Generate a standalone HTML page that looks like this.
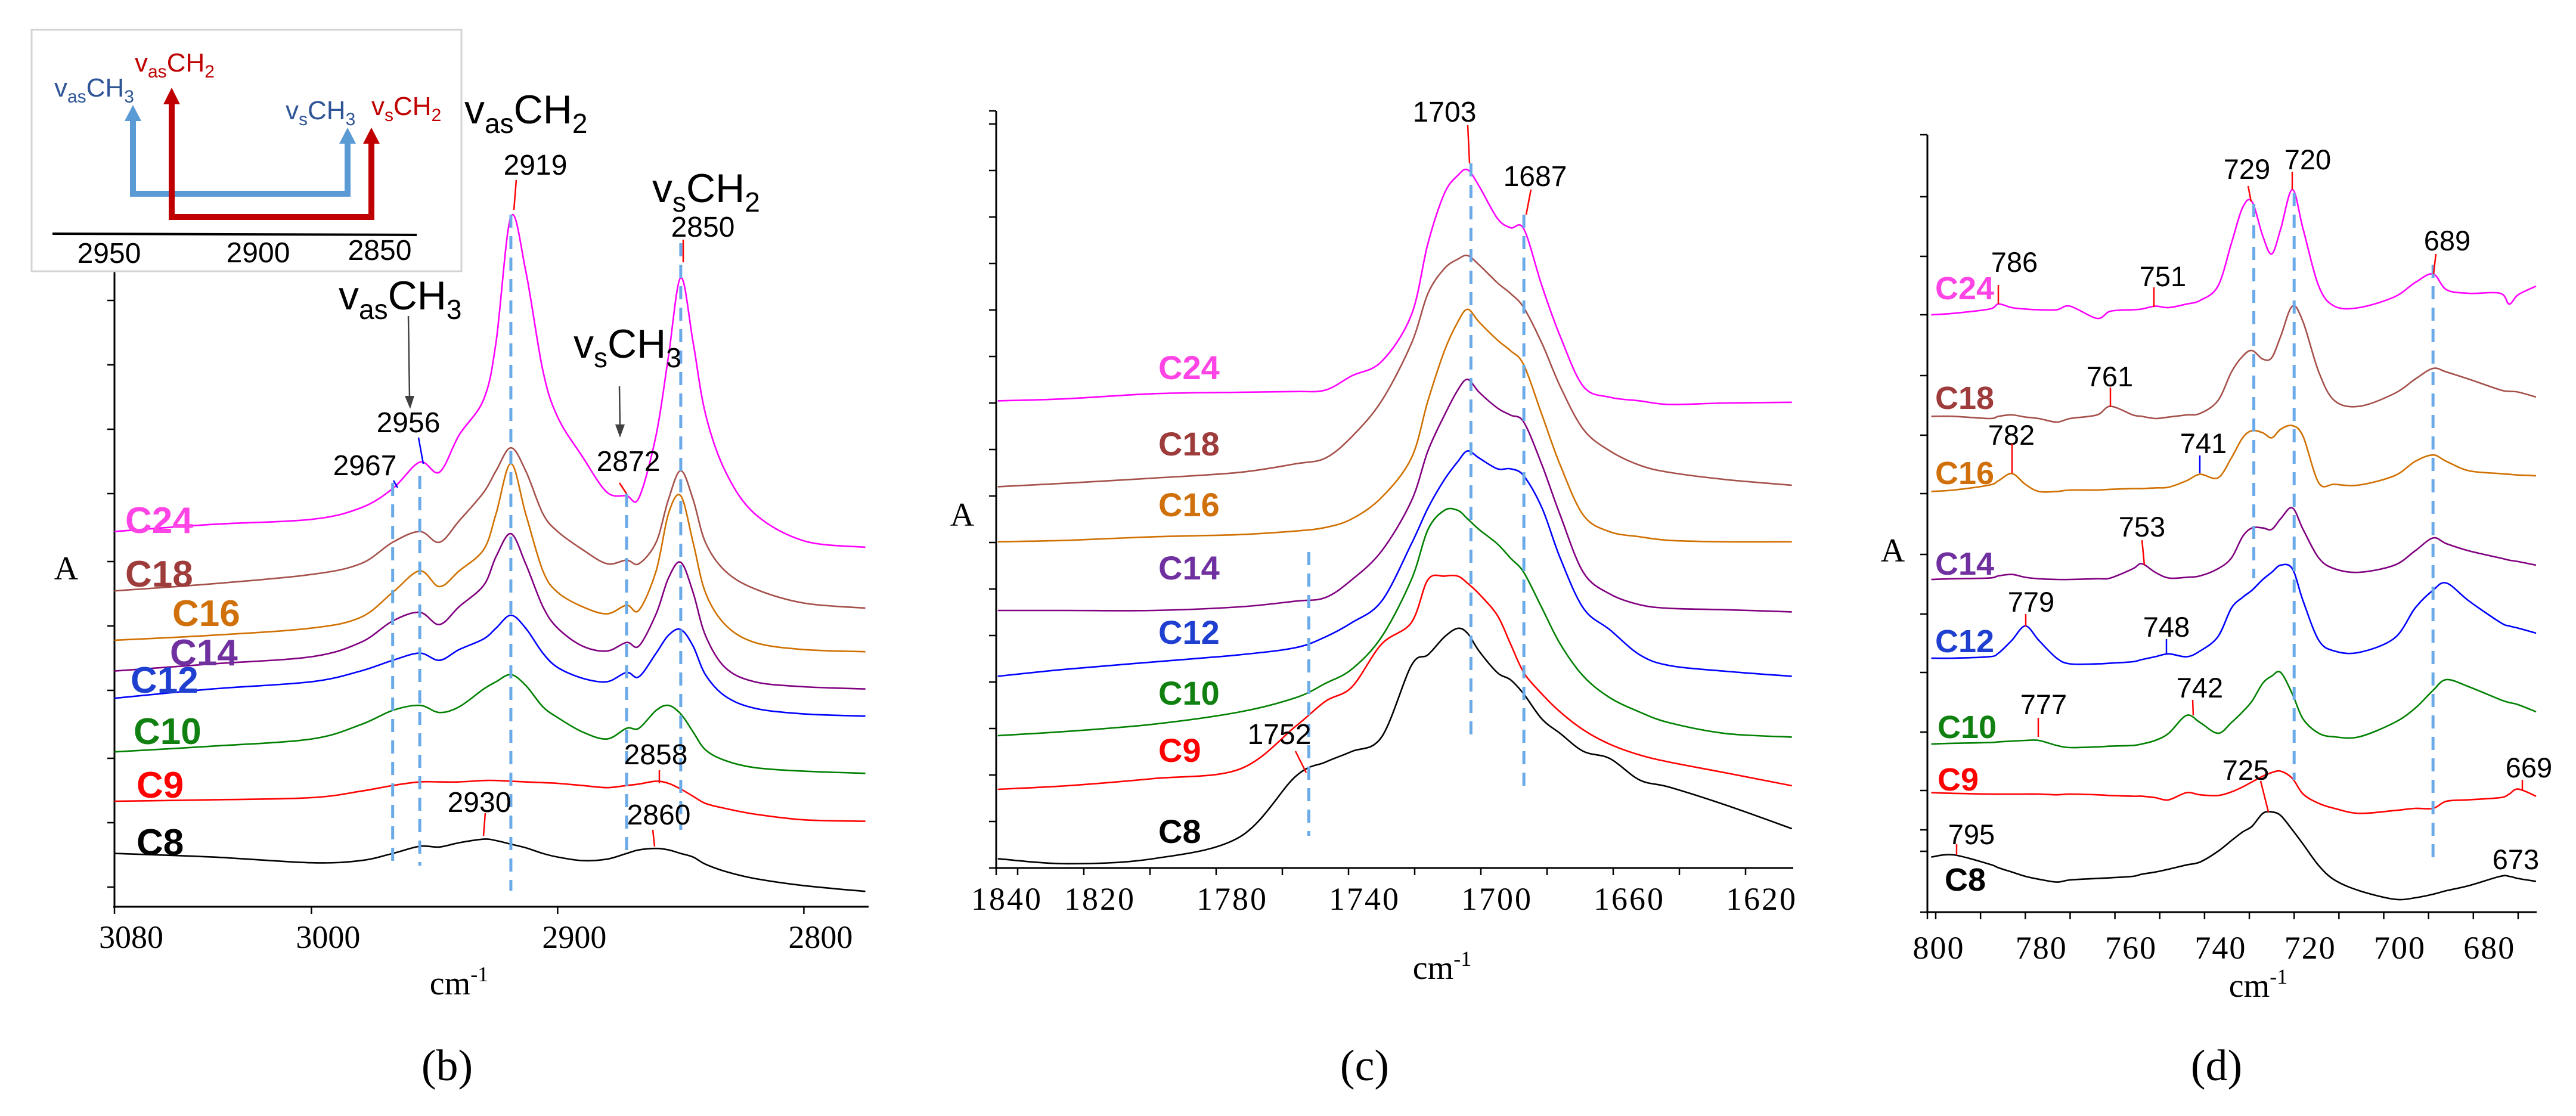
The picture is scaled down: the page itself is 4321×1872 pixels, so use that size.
<!DOCTYPE html>
<html><head><meta charset="utf-8">
<style>
html,body{margin:0;padding:0;background:#fff;}
svg{display:block;}
.sans{font-family:"Liberation Sans",sans-serif;}
.serif{font-family:"Liberation Serif",serif;}
</style></head>
<body>
<svg id="fig" width="4321" height="1872" viewBox="0 0 4321 1872" xmlns="http://www.w3.org/2000/svg">
<rect x="0" y="0" width="4321" height="1872" fill="#fff"/>

<!-- Panel b static -->
<g id="pb">
  <line x1="192" y1="440" x2="192" y2="1523" stroke="#000" stroke-width="3"/>
  <line x1="190" y1="1521" x2="1457" y2="1521" stroke="#000" stroke-width="3"/>
  <text x="111" y="972" class="serif" font-size="56" text-anchor="middle">A</text>
  <text x="770" y="1668" class="serif" font-size="56" text-anchor="middle">cm<tspan font-size="36" dy="-22">-1</tspan></text>
  <text x="750" y="1812" class="serif" font-size="74" text-anchor="middle">(b)</text>
</g>

<!-- Panel c static -->
<g id="pc">
  <line x1="1671" y1="186" x2="1671" y2="1458" stroke="#000" stroke-width="3"/>
  <line x1="1669" y1="1456" x2="3008" y2="1456" stroke="#000" stroke-width="3"/>
  <text x="1614" y="882" class="serif" font-size="56" text-anchor="middle">A</text>
  <text x="2419" y="1642" class="serif" font-size="56" text-anchor="middle">cm<tspan font-size="36" dy="-22">-1</tspan></text>
  <text x="2289" y="1812" class="serif" font-size="74" text-anchor="middle">(c)</text>
</g>

<!-- Panel d static -->
<g id="pd">
  <line x1="3233" y1="226" x2="3233" y2="1532" stroke="#000" stroke-width="3"/>
  <line x1="3231" y1="1530" x2="4255" y2="1530" stroke="#000" stroke-width="3"/>
  <text x="3175" y="942" class="serif" font-size="56" text-anchor="middle">A</text>
  <text x="3788" y="1672" class="serif" font-size="56" text-anchor="middle">cm<tspan font-size="36" dy="-22">-1</tspan></text>
  <text x="3718" y="1812" class="serif" font-size="74" text-anchor="middle">(d)</text>
</g>

<g id="curves"></g>
<g id="dashes"></g>

<!-- Panel b annotations -->
<g class="sans">
  <text x="779" y="207" font-size="68">v<tspan font-size="46" dy="16">as</tspan><tspan dy="-16">CH</tspan><tspan font-size="46" dy="16">2</tspan></text>
  <text x="898" y="293" font-size="48" text-anchor="middle">2919</text>
  <line x1="866" y1="302" x2="862" y2="352" stroke="#f00" stroke-width="2.5"/>
  <text x="1094" y="339" font-size="68">v<tspan font-size="46" dy="16">s</tspan><tspan dy="-16">CH</tspan><tspan font-size="46" dy="16">2</tspan></text>
  <text x="1179" y="397" font-size="48" text-anchor="middle">2850</text>
  <line x1="1146" y1="402" x2="1146" y2="440" stroke="#f00" stroke-width="2.5"/>
  <text x="568" y="519" font-size="68">v<tspan font-size="46" dy="16">as</tspan><tspan dy="-16">CH</tspan><tspan font-size="46" dy="16">3</tspan></text>
  <line x1="685" y1="530" x2="687" y2="668" stroke="#404040" stroke-width="2.5"/>
  <polygon points="679,664 695,664 688,686" fill="#404040"/>
  <text x="685" y="725" font-size="48" text-anchor="middle">2956</text>
  <line x1="702" y1="734" x2="710" y2="778" stroke="#00f" stroke-width="2.5"/>
  <text x="612" y="797" font-size="48" text-anchor="middle">2967</text>
  <line x1="660" y1="806" x2="667" y2="818" stroke="#00f" stroke-width="2.5"/>
  <text x="962" y="600" font-size="68">v<tspan font-size="46" dy="16">s</tspan><tspan dy="-16">CH</tspan><tspan font-size="46" dy="16">3</tspan></text>
  <line x1="1039" y1="648" x2="1040" y2="716" stroke="#404040" stroke-width="2.5"/>
  <polygon points="1032,712 1048,712 1040,734" fill="#404040"/>
  <text x="1054" y="790" font-size="48" text-anchor="middle">2872</text>
  <line x1="1039" y1="810" x2="1051" y2="828" stroke="#f00" stroke-width="2.5"/>
  <text x="1100" y="1282" font-size="48" text-anchor="middle">2858</text>
  <line x1="1106" y1="1292" x2="1106" y2="1314" stroke="#f00" stroke-width="2.5"/>
  <text x="804" y="1362" font-size="48" text-anchor="middle">2930</text>
  <line x1="814" y1="1364" x2="811" y2="1402" stroke="#f00" stroke-width="2.5"/>
  <text x="1105" y="1383" font-size="48" text-anchor="middle">2860</text>
  <line x1="1095" y1="1392" x2="1098" y2="1420" stroke="#f00" stroke-width="2.5"/>
</g>

<!-- Inset -->
<g class="sans">
  <rect x="53" y="50" width="721" height="405" fill="#fff" stroke="#d4d4d4" stroke-width="3"/>
  <line x1="88" y1="392" x2="699" y2="394" stroke="#000" stroke-width="4"/>
  <text x="183" y="441" font-size="48" text-anchor="middle">2950</text>
  <text x="433" y="440" font-size="48" text-anchor="middle">2900</text>
  <text x="637" y="436" font-size="48" text-anchor="middle">2850</text>
  <path d="M223,198 V325 H583 V236" fill="none" stroke="#5b9bd5" stroke-width="10"/>
  <polygon points="223,176 209,203 237,203" fill="#5b9bd5"/>
  <polygon points="583,214 569,241 597,241" fill="#5b9bd5"/>
  <path d="M288,170 V364 H623 V236" fill="none" stroke="#c00000" stroke-width="10"/>
  <polygon points="288,147 274,175 302,175" fill="#c00000"/>
  <polygon points="623,214 609,241 637,241" fill="#c00000"/>
  <text x="91" y="162" font-size="44" fill="#2f5597">v<tspan font-size="30" dy="10">as</tspan><tspan dy="-10">CH</tspan><tspan font-size="30" dy="10">3</tspan></text>
  <text x="226" y="120" font-size="44" fill="#c00000">v<tspan font-size="30" dy="10">as</tspan><tspan dy="-10">CH</tspan><tspan font-size="30" dy="10">2</tspan></text>
  <text x="479" y="200" font-size="44" fill="#2f5597">v<tspan font-size="30" dy="10">s</tspan><tspan dy="-10">CH</tspan><tspan font-size="30" dy="10">3</tspan></text>
  <text x="623" y="193" font-size="44" fill="#c00000">v<tspan font-size="30" dy="10">s</tspan><tspan dy="-10">CH</tspan><tspan font-size="30" dy="10">2</tspan></text>
</g>

<!-- Panel c annotations -->
<g class="sans" font-size="48">
  <text x="2423" y="204" text-anchor="middle">1703</text>
  <line x1="2462" y1="210" x2="2465" y2="274" stroke="#f00" stroke-width="2.5"/>
  <text x="2575" y="312" text-anchor="middle">1687</text>
  <line x1="2568" y1="318" x2="2560" y2="360" stroke="#f00" stroke-width="2.5"/>
  <text x="2146" y="1248" text-anchor="middle">1752</text>
  <line x1="2173" y1="1260" x2="2191" y2="1296" stroke="#f00" stroke-width="2.5"/>
</g>

<!-- Panel d annotations -->
<g class="sans" font-size="47">
  <text x="3379" y="456" text-anchor="middle">786</text>
  <line x1="3352" y1="478" x2="3352" y2="510" stroke="#f00" stroke-width="2.5"/>
  <text x="3628" y="480" text-anchor="middle">751</text>
  <line x1="3613" y1="482" x2="3613" y2="515" stroke="#f00" stroke-width="2.5"/>
  <text x="3769" y="300" text-anchor="middle">729</text>
  <line x1="3771" y1="312" x2="3776" y2="338" stroke="#f00" stroke-width="2.5"/>
  <text x="3871" y="284" text-anchor="middle">720</text>
  <line x1="3845" y1="288" x2="3845" y2="318" stroke="#f00" stroke-width="2.5"/>
  <text x="4105" y="420" text-anchor="middle">689</text>
  <line x1="4086" y1="426" x2="4082" y2="460" stroke="#f00" stroke-width="2.5"/>
  <text x="3539" y="648" text-anchor="middle">761</text>
  <line x1="3540" y1="650" x2="3540" y2="682" stroke="#f00" stroke-width="2.5"/>
  <text x="3374" y="746" text-anchor="middle">782</text>
  <line x1="3375" y1="744" x2="3375" y2="794" stroke="#f00" stroke-width="2.5"/>
  <text x="3696" y="760" text-anchor="middle">741</text>
  <line x1="3690" y1="764" x2="3690" y2="794" stroke="#00f" stroke-width="2.5"/>
  <text x="3593" y="900" text-anchor="middle">753</text>
  <line x1="3593" y1="906" x2="3597" y2="948" stroke="#f00" stroke-width="2.5"/>
  <text x="3407" y="1026" text-anchor="middle">779</text>
  <line x1="3398" y1="1030" x2="3398" y2="1051" stroke="#f00" stroke-width="2.5"/>
  <text x="3634" y="1068" text-anchor="middle">748</text>
  <line x1="3634" y1="1072" x2="3634" y2="1098" stroke="#00f" stroke-width="2.5"/>
  <text x="3690" y="1170" text-anchor="middle">742</text>
  <line x1="3678" y1="1174" x2="3679" y2="1200" stroke="#f00" stroke-width="2.5"/>
  <text x="3428" y="1198" text-anchor="middle">777</text>
  <line x1="3419" y1="1204" x2="3419" y2="1236" stroke="#f00" stroke-width="2.5"/>
  <text x="3767" y="1308" text-anchor="middle">725</text>
  <line x1="3792" y1="1310" x2="3805" y2="1362" stroke="#f00" stroke-width="2.5"/>
  <text x="4242" y="1304" text-anchor="middle">669</text>
  <line x1="4231" y1="1308" x2="4231" y2="1326" stroke="#f00" stroke-width="2.5"/>
  <text x="3307" y="1416" text-anchor="middle">795</text>
  <line x1="3282" y1="1416" x2="3282" y2="1434" stroke="#f00" stroke-width="2.5"/>
  <text x="4220" y="1458" text-anchor="middle">673</text>
</g>
<g id="labels"></g>
<g id="ticks"></g>
</svg>

<script>
// ---------- Panel (b) data: C-H stretching region ----------
const bWavenumbers = [3080,3040,3000,2980,2967,2956,2948,2940,2930,2925,2919,2913,2906,2900,2890,2880,2872,2867,2860,2855,2850,2845,2840,2832,2820,2800,2775];
const bC24 = [5.27,5.37,5.44,5.60,5.87,6.24,6.10,6.62,7.12,7.92,9.67,8.92,7.52,6.87,6.32,5.82,5.77,5.74,6.62,7.72,8.82,7.92,6.92,6.12,5.52,5.14,5.05];
const bC18 = [4.44,4.54,4.67,4.82,5.12,5.27,5.12,5.42,5.82,6.12,6.44,6.12,5.52,5.27,5.02,4.82,4.87,4.82,5.12,5.72,6.12,5.72,5.12,4.72,4.47,4.27,4.20];
const bC16 = [3.75,3.82,3.92,4.07,4.42,4.72,4.50,4.72,5.02,5.52,6.22,5.52,4.72,4.42,4.22,4.12,4.24,4.17,4.72,5.52,5.77,5.12,4.42,3.97,3.72,3.62,3.59];
const bC14 = [3.32,3.42,3.52,3.72,4.02,4.14,3.97,4.22,4.52,4.92,5.24,4.82,4.22,3.92,3.67,3.60,3.72,3.67,4.12,4.62,4.84,4.42,3.82,3.37,3.17,3.10,3.07];
const bC12 = [2.94,3.07,3.17,3.32,3.47,3.57,3.47,3.62,3.77,3.92,4.10,3.92,3.57,3.37,3.22,3.17,3.30,3.24,3.57,3.82,3.90,3.67,3.27,2.97,2.80,2.72,2.69];
const bC10 = [2.19,2.27,2.37,2.57,2.77,2.84,2.74,2.82,3.07,3.17,3.27,3.12,2.82,2.67,2.47,2.37,2.52,2.52,2.77,2.84,2.72,2.47,2.22,2.07,1.97,1.92,1.89];
const bC9  = [1.50,1.52,1.55,1.64,1.72,1.77,1.77,1.77,1.79,1.79,1.78,1.77,1.76,1.75,1.72,1.69,1.72,1.74,1.78,1.75,1.67,1.57,1.47,1.40,1.32,1.24,1.22];
const bC8  = [0.77,0.72,0.64,0.67,0.77,0.87,0.86,0.92,0.97,0.95,0.90,0.85,0.77,0.72,0.67,0.69,0.77,0.82,0.84,0.82,0.77,0.72,0.62,0.52,0.42,0.32,0.24];
const bTickValues = [3080,3000,2900,2800];
const bTickLabels = ["3080","3000","2900","2800"];
const bPeakMarkers = [2967,2956,2919,2872,2850];

// ---------- Panel (c) data: C=O region ----------
const cWavenumbers = [1846,1825,1799,1773,1756,1747,1739,1730,1721,1716,1711,1707,1704,1700.5,1695,1691,1687,1681.5,1676,1669,1661,1652,1643,1626,1606];
const cC24 = [6.53,6.56,6.63,6.65,6.66,6.68,6.88,7.08,7.73,8.73,9.43,9.68,9.76,9.53,9.08,8.95,8.93,8.13,7.43,6.73,6.58,6.53,6.48,6.50,6.51];
const cC18 = [5.33,5.38,5.45,5.53,5.65,5.73,6.03,6.53,7.33,8.03,8.38,8.51,8.56,8.43,8.18,8.03,7.83,7.33,6.73,6.13,5.83,5.63,5.53,5.43,5.35];
const cC16 = [4.56,4.58,4.63,4.66,4.71,4.76,4.88,5.18,5.73,6.53,7.23,7.63,7.81,7.63,7.38,7.23,7.03,6.33,5.63,4.93,4.70,4.63,4.58,4.56,4.56];
const cC14 = [3.60,3.60,3.60,3.65,3.73,3.78,4.03,4.43,5.13,5.83,6.33,6.68,6.83,6.65,6.43,6.33,6.23,5.63,4.93,4.13,3.83,3.68,3.63,3.61,3.58];
const cC12 = [2.68,2.78,2.88,2.98,3.08,3.23,3.43,3.73,4.53,5.03,5.43,5.68,5.83,5.73,5.58,5.58,5.48,5.03,4.33,3.63,3.33,2.98,2.83,2.75,2.68];
const cC10 = [1.85,1.91,2.01,2.18,2.38,2.58,2.78,3.23,4.03,4.73,5.00,5.00,4.88,4.73,4.53,4.33,4.13,3.63,3.13,2.68,2.38,2.18,2.03,1.88,1.83];
const cC9  = [1.10,1.15,1.25,1.38,1.98,2.33,2.53,3.13,3.43,4.03,4.08,4.08,3.98,3.83,3.53,3.13,2.73,2.43,2.18,1.93,1.73,1.58,1.48,1.33,1.15];
const cC8  = [0.13,0.06,0.13,0.43,1.28,1.48,1.63,1.83,2.83,2.98,3.23,3.35,3.28,3.03,2.73,2.63,2.43,2.08,1.88,1.63,1.53,1.23,1.13,0.88,0.55];
const cTickValues = [1840,1820,1800,1780,1760,1740,1720,1700,1680,1660,1640,1620];
const cTickLabels = ["1840","1820","1780","1740","1700","1660","1620"];
const cLabelValues = [1840,1820,1780,1740,1700,1660,1620];
const cPeakMarkers = [1703,1687,1752];

// ---------- Panel (d) data: rocking region ----------
const dWavenumbers = [801,796,788,786,783,780,777,773,770,764,761,756,754,751,748,744,741,737,734,731.5,729.4,727,725,723,720.4,718,714.5,711,705.5,697.6,693,689,686,681,674,672,670,666];
const dC24 = [8.35,8.37,8.43,8.50,8.45,8.43,8.42,8.42,8.47,8.30,8.40,8.42,8.43,8.47,8.45,8.50,8.55,8.75,9.35,9.85,9.93,9.45,9.20,9.55,10.10,9.55,8.75,8.47,8.45,8.60,8.80,8.92,8.70,8.65,8.65,8.50,8.63,8.75];
const dC18 = [6.93,6.93,6.90,6.93,6.95,6.92,6.90,6.85,6.90,6.95,7.07,6.95,6.93,6.90,6.92,6.95,6.97,7.15,7.55,7.77,7.85,7.73,7.75,8.05,8.47,8.25,7.55,7.15,7.07,7.25,7.45,7.60,7.55,7.45,7.30,7.28,7.27,7.20];
const dC16 = [5.88,5.90,5.97,6.03,6.13,5.98,5.88,5.88,5.90,5.90,5.91,5.92,5.92,5.93,5.94,6.03,6.12,6.07,6.35,6.63,6.73,6.70,6.63,6.75,6.80,6.65,6.00,5.98,5.97,6.10,6.30,6.39,6.30,6.17,6.13,6.12,6.11,6.10];
const dC14 = [4.65,4.66,4.67,4.70,4.72,4.68,4.66,4.65,4.65,4.66,4.67,4.80,4.87,4.75,4.67,4.68,4.70,4.80,4.95,5.25,5.37,5.37,5.35,5.50,5.65,5.35,4.95,4.80,4.75,4.85,5.05,5.23,5.15,5.05,4.95,4.92,4.90,4.85];
const dC12 = [3.55,3.55,3.57,3.62,3.80,4.00,3.80,3.55,3.47,3.47,3.48,3.50,3.53,3.57,3.61,3.57,3.65,3.85,4.25,4.40,4.50,4.65,4.75,4.85,4.80,4.35,3.80,3.65,3.63,3.83,4.25,4.50,4.60,4.35,4.05,4.00,3.97,3.90];
const dC10 = [2.35,2.36,2.37,2.38,2.39,2.40,2.40,2.33,2.30,2.31,2.32,2.33,2.35,2.40,2.50,2.75,2.65,2.50,2.65,2.80,2.95,3.20,3.30,3.35,3.05,2.70,2.50,2.45,2.45,2.65,2.85,3.10,3.25,3.15,2.97,2.93,2.90,2.80];
const dC9  = [1.67,1.66,1.65,1.65,1.65,1.65,1.65,1.64,1.65,1.64,1.63,1.62,1.62,1.60,1.57,1.67,1.64,1.63,1.68,1.75,1.82,1.90,1.95,1.97,1.87,1.65,1.52,1.45,1.38,1.42,1.45,1.45,1.55,1.57,1.60,1.65,1.72,1.62];
const dC8  = [0.77,0.80,0.67,0.62,0.56,0.50,0.46,0.42,0.45,0.47,0.48,0.50,0.53,0.56,0.60,0.66,0.70,0.85,1.00,1.12,1.20,1.38,1.40,1.35,1.15,0.95,0.65,0.45,0.30,0.18,0.20,0.25,0.30,0.37,0.50,0.50,0.47,0.43];
const dTickValues = [800,790,780,770,760,750,740,730,720,710,700,690,680,670];
const dTickLabels = ["800","780","760","740","720","700","680"];
const dLabelValues = [800,780,760,740,720,700,680];
const dPeakMarkers = [729,720,689];

const seriesNames = ["C24","C18","C16","C14","C12","C10","C9","C8"];

// ---------- scales ----------
function xB(v){ return 192 + (3080 - v) * 4.13; }
function yB(a){ return 1524 - a * 120; }
function xC(v){ return 2484 + (1700 - v) * 5.55; }
function yC(a){ return 1456 - a * 120; }
function xD(v){ return 3247 + (800 - v) * 7.515; }
function yD(a){ return 1530 - a * 120; }

const NS = "http://www.w3.org/2000/svg";
const lineColors = {C24:"#ff00ff",C18:"#a5504a",C16:"#d07000",C14:"#800080",C12:"#0000ff",C10:"#008000",C9:"#ff0000",C8:"#000000"};
const labelColors = {C24:"#ff44e6",C18:"#9e3b3b",C16:"#d0700a",C14:"#7030a0",C12:"#1f3fd0",C10:"#108010",C9:"#ff0000",C8:"#000000"};

function smoothPath(xs, ys){
  let d = "M" + xs[0].toFixed(1) + "," + ys[0].toFixed(1);
  for (let i = 0; i < xs.length - 1; i++){
    const x0 = xs[Math.max(i-1,0)], y0 = ys[Math.max(i-1,0)];
    const x1 = xs[i], y1 = ys[i], x2 = xs[i+1], y2 = ys[i+1];
    const x3 = xs[Math.min(i+2,xs.length-1)], y3 = ys[Math.min(i+2,xs.length-1)];
    const c1x = x1 + (x2 - x0)/6, c1y = y1 + (y2 - y0)/6;
    const c2x = x2 - (x3 - x1)/6, c2y = y2 - (y3 - y1)/6;
    d += " C" + c1x.toFixed(1) + "," + c1y.toFixed(1) + " " + c2x.toFixed(1) + "," + c2y.toFixed(1) + " " + x2.toFixed(1) + "," + y2.toFixed(1);
  }
  return d;
}

const curveGroup = document.getElementById("curves");
function drawSeries(panel, wn, vals, name, xf, yf){
  const xs = wn.map(xf), ys = vals.map(yf);
  const p = document.createElementNS(NS, "path");
  p.setAttribute("d", smoothPath(xs, ys));
  p.setAttribute("fill", "none");
  p.setAttribute("stroke", lineColors[name]);
  p.setAttribute("stroke-width", "2.6");
  
  
  curveGroup.appendChild(p);
}
const bSeries = [bC24,bC18,bC16,bC14,bC12,bC10,bC9,bC8];
const cSeries = [cC24,cC18,cC16,cC14,cC12,cC10,cC9,cC8];
const dSeries = [dC24,dC18,dC16,dC14,dC12,dC10,dC9,dC8];
seriesNames.forEach((n,i)=>{
  drawSeries("b", bWavenumbers, bSeries[i], n, xB, yB);
  drawSeries("c", cWavenumbers, cSeries[i], n, xC, yC);
  drawSeries("d", dWavenumbers, dSeries[i], n, xD, yD);
});

// ---------- dashed peak markers ----------
const dashGroup = document.getElementById("dashes");
function dashLine(panel, x, y1, y2){
  const l = document.createElementNS(NS, "line");
  l.setAttribute("x1", x); l.setAttribute("x2", x);
  l.setAttribute("y1", y1); l.setAttribute("y2", y2);
  l.setAttribute("stroke", "#6aaae8");
  l.setAttribute("stroke-width", "5");
  l.setAttribute("stroke-dasharray", "22 14");
  
  
  dashGroup.appendChild(l);
}
const bMarkerSpans = [[810,1452],[798,1452],[360,1494],[828,1440],[408,1392]];
bPeakMarkers.forEach((v,i)=> dashLine("b", xB(v), bMarkerSpans[i][0], bMarkerSpans[i][1]));
const cMarkerSpans = [[274,1240],[360,1332],[926,1402]];
cPeakMarkers.forEach((v,i)=> dashLine("c", xC(v), cMarkerSpans[i][0], cMarkerSpans[i][1]));
const dMarkerSpans = [[342,970],[324,1308],[444,1452]];
dPeakMarkers.forEach((v,i)=> dashLine("d", xD(v), dMarkerSpans[i][0], dMarkerSpans[i][1]));

// ---------- series labels ----------
const labelGroup = document.getElementById("labels");
function seriesLabel(panel, name, x, y, size){
  const t = document.createElementNS(NS, "text");
  t.setAttribute("x", x); t.setAttribute("y", y);
  t.setAttribute("font-family", '"Liberation Sans", sans-serif');
  t.setAttribute("font-weight", "bold");
  t.setAttribute("font-size", size);
  t.setAttribute("fill", labelColors[name]);
  t.textContent = name;
  
  
  labelGroup.appendChild(t);
}
const bLabelPos = [[210,894],[210,984],[289,1050],[285,1116],[219,1162],[224,1248],[229,1338],[229,1434]];
const cLabelPos = [[1998,636],[1998,764],[1998,866],[1998,972],[1998,1080],[1998,1182],[1998,1278],[1998,1414]];
const dLabelPos = [[3246,502],[3246,686],[3246,812],[3246,964],[3246,1094],[3250,1238],[3250,1326],[3262,1494]];
seriesNames.forEach((n,i)=>{
  seriesLabel("b", n, bLabelPos[i][0], bLabelPos[i][1], 62);
  const t = seriesLabel("c", n, cLabelPos[i][0] - 55, cLabelPos[i][1], 56);
  seriesLabel("d", n, dLabelPos[i][0], dLabelPos[i][1], 54);
});

// ---------- ticks ----------
const tickGroup = document.getElementById("ticks");
function tick(panel, x1, y1, x2, y2){
  const l = document.createElementNS(NS, "line");
  l.setAttribute("x1", x1); l.setAttribute("y1", y1);
  l.setAttribute("x2", x2); l.setAttribute("y2", y2);
  l.setAttribute("stroke", "#000");
  l.setAttribute("stroke-width", "2.5");
  
  
  tickGroup.appendChild(l);
}
function tickLabel(panel, txt, x, y, spacing){
  const t = document.createElementNS(NS, "text");
  t.setAttribute("x", x); t.setAttribute("y", y);
  t.setAttribute("font-family", '"Liberation Serif", serif');
  t.setAttribute("font-size", "54");
  t.setAttribute("text-anchor", "middle");
  if (spacing) t.setAttribute("letter-spacing", spacing);
  t.textContent = txt;
  
  
  tickGroup.appendChild(t);
}
// panel b
bTickValues.forEach((v,i)=>{
  tick("b", xB(v), 1521, xB(v), 1533);
  tickLabel("b", bTickLabels[i], xB(v) + 28, 1590);
});
[1488,1380,1272,1158,1050,942,828,720,612,504].forEach(y=> tick("b", 180, y, 192, y));
// panel c
cTickValues.forEach(v=>{ const x = xC(v); if (x >= 1671) tick("c", x, 1456, x, 1468); });
tick("c", 1671, 1456, 1671, 1468);
cLabelValues.forEach((v,i)=>{
  const x = (v === 1840) ? 1689 : xC(v) + 27;
  tickLabel("c", cTickLabels[i], x, 1526, 3);
});
for (let y = 1456; y >= 186; y -= 78) tick("c", 1659, y, 1671, y);
tick("c", 1659, 186, 1671, 186);
// panel d
dTickValues.forEach(v=>{ const x = xD(v); tick("d", x, 1530, x, 1542); });
tick("d", 3233, 1530, 3233, 1542);
dLabelValues.forEach((v,i)=>{
  const x = (v === 800) ? 3252 : xD(v) + 27;
  tickLabel("d", dTickLabels[i], x, 1608, 2);
});
[1530,1428,1392,1326,1228,1128,1030,930,828,730,630,528,430,330,226].forEach(y=> tick("d", 3221, y, 3233, y));
</script>
</body></html>
